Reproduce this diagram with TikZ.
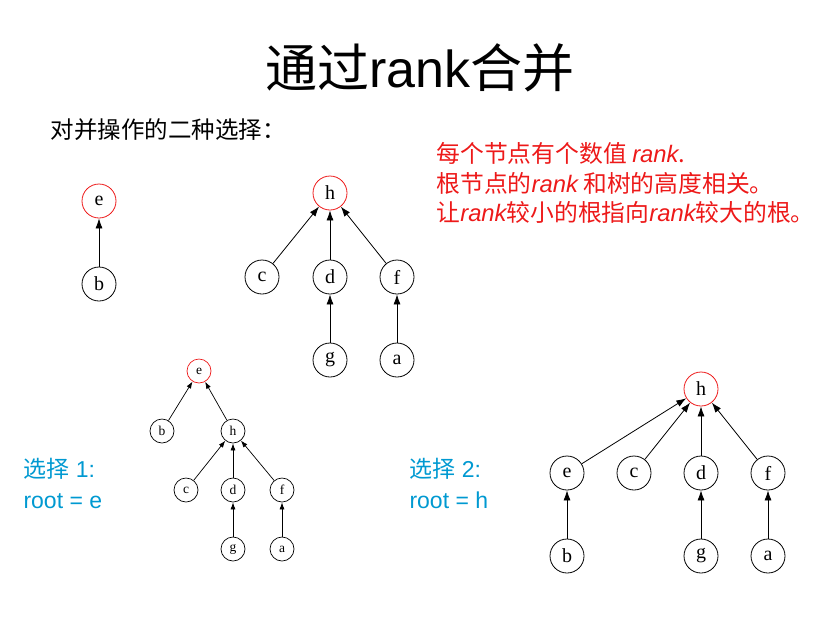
\documentclass[tikz,border=0pt]{standalone}
\usepackage{fontspec}
\setmainfont{Liberation Serif}
\newfontfamily\cjk{Noto Sans CJK SC}
\newfontfamily\arialf{Liberation Sans}
\usetikzlibrary{arrows.meta, positioning}
\definecolor{rootred}{rgb}{0.93, 0.1, 0.1}
\definecolor{choiceblue}{rgb}{0.0, 0.6, 0.82}

\tikzset{
  vtx/.style={circle, draw, line width=0.8pt, minimum size=34pt, inner sep=0pt, font=\fontsize{20}{20}\selectfont},
  root/.style={vtx, draw=rootred},
  svtx/.style={circle, draw, line width=0.7pt, minimum size=24pt, inner sep=0pt, font=\fontsize{13.5}{13.5}\selectfont},
  sroot/.style={svtx, draw=rootred},
  link/.style={-{Latex[length=10pt, width=7pt]}, line width=0.8pt},
  slink/.style={-{Latex[length=7pt, width=5pt]}, line width=0.7pt},
}

\begin{document}
\begin{tikzpicture}[x=1pt, y=-1pt]
  \useasboundingbox (0,0) rectangle (816,619);

  % title and notes
  \node[font=\fontsize{52}{54}\selectfont] (title) at (420,68) {\cjk 通过\arialf rank\cjk 合并};
  \node[anchor=west, font=\fontsize{23.5}{24}\selectfont\cjk] (intro) at (47,130) {对并操作的二种选择：};
  \node[anchor=north west, align=left, text=rootred, font=\fontsize{23.8}{29.5}\selectfont\cjk] (note) at (433,139)
    {每个节点有个数值 {\arialf\itshape rank}.\\
     根节点的{\arialf\itshape rank} 和树的高度相关。\\
     让{\arialf\itshape rank}较小的根指向{\arialf\itshape rank}较大的根。};

  % first tree
  \node[root] (e1) at (99,201) {e};
  \node[vtx] (b1) at (99,284) {b};
  \draw[link] (b1) -- (e1);

  % second tree
  \node[root] (h2) at (330,193) {h};
  \node[vtx] (c2) at (262,277) {c};
  \node[vtx] (d2) at (330,277) {d};
  \node[vtx] (f2) at (397,277) {f};
  \node[vtx] (g2) at (330,360) {g};
  \node[vtx] (a2) at (397,360) {a};
  \foreach \n in {c2,d2,f2} \draw[link] (\n) -- (h2);
  \draw[link] (g2) -- (d2);
  \draw[link] (a2) -- (f2);

  % choice 1
  \node[anchor=north west, align=left, text=choiceblue, font=\fontsize{23}{31}\selectfont\arialf] (ch1) at (20,455)
    {{\cjk 选择} 1:\\root = e};
  \node[sroot] (e3) at (199,371) {e};
  \node[svtx] (b3) at (162,431) {b};
  \node[svtx] (h3) at (233,431) {h};
  \node[svtx] (c3) at (186,490) {c};
  \node[svtx] (d3) at (233,490) {d};
  \node[svtx] (f3) at (282,490) {f};
  \node[svtx] (g3) at (233,549) {g};
  \node[svtx] (a3) at (282,549) {a};
  \draw[slink] (b3) -- (e3);
  \draw[slink] (h3) -- (e3);
  \foreach \n in {c3,d3,f3} \draw[slink] (\n) -- (h3);
  \draw[slink] (g3) -- (d3);
  \draw[slink] (a3) -- (f3);

  % choice 2
  \node[anchor=north west, align=left, text=choiceblue, font=\fontsize{23}{31}\selectfont\arialf] (ch2) at (406,455)
    {{\cjk 选择} 2:\\root = h};
  \node[root] (h4) at (701,389) {h};
  \node[vtx] (e4) at (567,473) {e};
  \node[vtx] (c4) at (634,473) {c};
  \node[vtx] (d4) at (701,473) {d};
  \node[vtx] (f4) at (768,473) {f};
  \node[vtx] (b4) at (567,556) {b};
  \node[vtx] (g4) at (701,556) {g};
  \node[vtx] (a4) at (768,556) {a};
  \foreach \n in {e4,c4,d4,f4} \draw[link] (\n) -- (h4);
  \draw[link] (b4) -- (e4);
  \draw[link] (g4) -- (d4);
  \draw[link] (a4) -- (f4);
\end{tikzpicture}
\end{document}
